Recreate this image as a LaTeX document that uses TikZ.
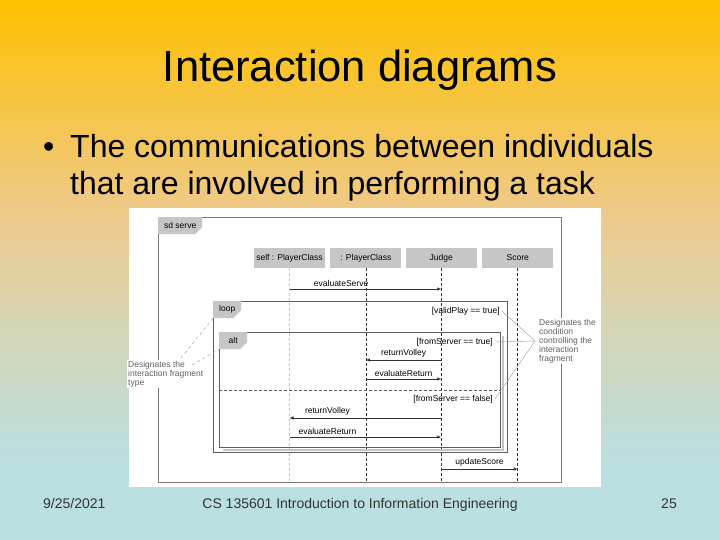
\documentclass[tikz,border=0pt]{standalone}
\usepackage{fontspec}
\setmainfont{Liberation Sans}
\usepackage{tikz}
\usetikzlibrary{arrows.meta,positioning,shapes.misc,calc}
\definecolor{sunny}{HTML}{FFC000}
\definecolor{sand}{HTML}{EECA8C}
\definecolor{sage}{HTML}{D4D7B8}
\definecolor{pale}{HTML}{B9DFE0}
\definecolor{tagfill}{HTML}{C6C6C6}
\definecolor{ink}{HTML}{333333}
\definecolor{rule}{HTML}{5E5E5E}
\definecolor{faint}{HTML}{C4C4C4}
\definecolor{notegray}{HTML}{606060}
\pgfdeclareverticalshading{slidebg}{100bp}{color(0bp)=(pale); color(25bp)=(pale); color(32bp)=(pale); color(44bp)=(sage); color(55bp)=(sand); color(75bp)=(sunny); color(100bp)=(sunny)}
\newcommand{\diag}{\fontsize{8.5}{9}\selectfont}
\tikzset{
  head/.style={fill=tagfill, minimum width=71pt, minimum height=20pt, inner sep=0pt, font=\diag},
  fragtag/.style={chamfered rectangle, chamfered rectangle corners=south east,
                  chamfered rectangle xsep=4pt, chamfered rectangle ysep=4pt,
                  fill=tagfill, inner sep=0pt, minimum height=17pt, font=\diag, anchor=north west},
  fragframe/.style={draw=rule, line width=0.9pt, anchor=north west, inner sep=0pt},
  life/.style={draw=ink, line width=0.6pt, dash pattern=on 3pt off 2pt},
  ghostlife/.style={life, draw=faint},
  msg/.style={-{Latex[length=4pt,width=3.5pt]}, draw=ink, line width=0.7pt},
  msglbl/.style={font=\diag, above=1.5pt, inner sep=0.5pt},
  guard/.style={font=\diag, anchor=east, inner sep=0pt},
  note/.style={font=\diag, text=notegray, align=left, fill=white, inner sep=1pt, anchor=north west},
  pointer/.style={draw=gray!80, line width=0.4pt}
}
\begin{document}
\begin{tikzpicture}[x=1pt, y=-1pt]
\useasboundingbox (0,0) rectangle (720,540);
\shade[shading=slidebg] (0,0) rectangle (720,540);

% --- slide text
\node[anchor=base, font=\fontsize{43.5}{50}\selectfont] (title) at (360,82) {Interaction diagrams};
\node[anchor=base west, inner sep=0pt, font=\fontsize{32}{37}\selectfont] (dot) at (43,158) {•};
\node[anchor=base west, inner sep=0pt, font=\fontsize{32}{37}\selectfont] (line1) at (70,158) {The communications between individuals};
\node[anchor=base west, inner sep=0pt, font=\fontsize{32}{37}\selectfont] (line2) at (70,195) {that are involved in performing a task};

% --- footer
\node[anchor=base west, inner sep=0pt, font=\fontsize{14}{16}\selectfont, text=ink] (date) at (43,508) {9/25/2021};
\node[anchor=base, inner sep=0pt, font=\fontsize{14}{16}\selectfont, text=ink] (course) at (360,508) {CS 135601 Introduction to Information Engineering};
\node[anchor=base east, inner sep=0pt, font=\fontsize{14}{16}\selectfont, text=ink] (page) at (677,508) {25};

% --- the sequence diagram
\node[fill=white, minimum width=472pt, minimum height=279pt, inner sep=0pt, anchor=north west] (shot) at (129,208) {};
\node[fragframe, draw=rule!85, minimum width=403pt, minimum height=265pt] (sd) at (158,217) {};
\node[fragtag, minimum width=44pt] (sdtag) at (sd.north west) {sd serve};

\node[head] (self) at (289.5,258) {self : PlayerClass};
\node[head, right=5pt of self] (pc) {: PlayerClass};
\node[head, right=4pt of pc] (judge) {Judge};
\node[head, right=5pt of judge] (score) {Score};

\draw[ghostlife] (self.south) -- (self.south |- sd.south);
\foreach \l in {pc,judge,score}
  \draw[life] (\l.south) -- (\l.south |- sd.south);

% --- combined fragments
\node[fragframe, minimum width=294pt, minimum height=151pt] (loop) at (213,301) {};
\node[fragtag, minimum width=28pt] (looptag) at (loop.north west) {loop};
\node[fragframe, minimum width=281pt, minimum height=115pt] (alt) at (219,332) {};
\node[fragtag, minimum width=28pt] (alttag) at (alt.north west) {alt};
\draw[draw=faint, line width=1.2pt] ($(alt.north east)+(2,4)$) -- ($(alt.south east)+(2,2)$) -- ($(alt.south west)+(4,2)$);
\draw[draw=rule, line width=0.6pt, dash pattern=on 3pt off 2pt] (alt.west |- 0,390) -- (alt.east |- 0,390);

\node[guard] (gvalid) at (500,311) {[validPlay == true]};
\node[guard] (gtrue) at (493,342) {[fromServer == true]};
\node[guard] (gfalse) at (493,399) {[fromServer == false]};

% --- messages
\foreach \a/\b/\y/\p/\txt in {self/judge/289/0.34/evaluateServe, judge/pc/360/0.5/returnVolley,
    pc/judge/379/0.5/evaluateReturn, judge/self/418/0.75/returnVolley,
    self/judge/437/0.25/evaluateReturn, judge/score/469/0.5/updateScore}
  \draw[msg] (\a |- 0,\y) -- node[msglbl, pos=\p] {\txt} (\b |- 0,\y);

% --- notes
\node[note] (fragnote) at (127,360) {Designates the\\interaction fragment\\type};
\node[note] (condnote) at (538,318) {Designates the\\condition\\controlling the\\interaction\\fragment};
\coordinate (looptip) at (181,358);
\coordinate (alttip) at (192,365);
\coordinate (condhub) at (535,341);
\draw[pointer, dashed] (looptip) -- (looptag.south west);
\draw[pointer, dashed] (alttip) -- (alttag.south west);
\draw[pointer] ([xshift=2pt]gvalid.east) -- (condhub);
\draw[pointer] ([xshift=2pt]gtrue.east) -- (condhub);
\draw[pointer] ([xshift=2pt]gfalse.east) -- (condhub);
\end{tikzpicture}
\end{document}
